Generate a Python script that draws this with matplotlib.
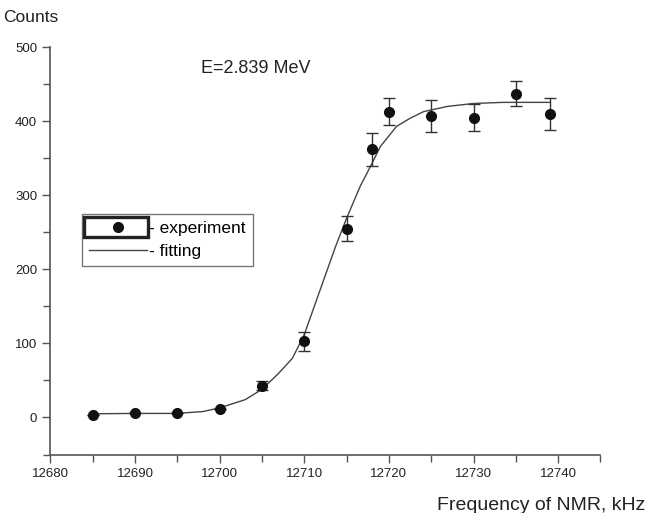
import numpy as np
import matplotlib
matplotlib.use("Agg")
import matplotlib.pyplot as plt
import matplotlib.patches as patches
from matplotlib.lines import Line2D
from matplotlib.legend_handler import HandlerBase
from matplotlib.ticker import MultipleLocator

plt.rcParams['font.family'] = ['Liberation Sans', 'DejaVu Sans']

# measured points
freq = [12685, 12690, 12695, 12700, 12705, 12710, 12715, 12718, 12720, 12725, 12730, 12735, 12739]
counts = [4, 5.5, 5.5, 11, 43, 103, 255, 362, 413, 407, 405, 437, 410]
errors = [0, 0, 0, 0, 6, 13, 17, 22, 18, 22, 18, 17, 22]

# fitted curve
fit_freq = [12685, 12690, 12695, 12698, 12700, 12703, 12705, 12707, 12708.6, 12710,
            12712.3, 12713.7, 12715, 12716.6, 12718, 12719, 12720.9, 12722.5, 12724.1,
            12726.9, 12730, 12733.5, 12739]
fit_counts = [5, 5.5, 5.5, 8, 13, 24, 38, 60, 80, 112,
              186, 231, 269, 312, 343, 366, 393, 404, 413,
              420, 424, 425.5, 425.5]

axis_color = "#555555"


class BoxedMarker(HandlerBase):
    def create_artists(self, legend, orig_handle, xdescent, ydescent,
                       width, height, fontsize, trans):
        box = patches.Rectangle((-xdescent - 4, -ydescent - 3), width + 5, height + 6,
                                fill=False, lw=2.4, edgecolor="#222222", transform=trans)
        dot = Line2D([width / 2 - xdescent], [height / 2 - ydescent], marker="o",
                     ms=7, color="#111111", ls="none", transform=trans)
        return [box, dot]


fig = plt.figure(figsize=(6.47, 5.13), dpi=100)
ax = fig.add_axes([0.078, 0.114, 0.85, 0.794])

ax.plot(fit_freq, fit_counts, color="#444444", lw=1.0)
ax.errorbar(freq, counts, yerr=errors, fmt="o", color="#111111", ms=7,
            ecolor="#333333", elinewidth=1.0, capsize=4, capthick=1.0)

ax.set_xlim(12680, 12745)
ax.set_ylim(-50, 500)
ax.xaxis.set_major_locator(MultipleLocator(10))
ax.xaxis.set_minor_locator(MultipleLocator(5))
ax.yaxis.set_major_locator(MultipleLocator(100))
ax.yaxis.set_minor_locator(MultipleLocator(50))

for s in ["top", "right"]:
    ax.spines[s].set_visible(False)
for s in ["left", "bottom"]:
    ax.spines[s].set_color(axis_color)
    ax.spines[s].set_linewidth(1.2)

ax.tick_params(which="both", direction="out", color=axis_color, width=1.0,
               labelsize=9.5, labelcolor="#222222")
ax.tick_params(which="major", length=6)
ax.tick_params(which="minor", length=5)

fig.text(0.005, 0.965, "Counts", fontsize=12.5, color="#222222", va="center")
fig.text(0.997, -0.002, "Frequency of NMR, kHz", fontsize=14, color="#222222",
         ha="right", va="bottom")
ax.text(12697.8, 465, "E=2.839 MeV", fontsize=13, color="#222222")

exp_handle = Line2D([], [], marker="o", ls="none")
fit_handle = Line2D([], [], color="#444444", lw=1.0)
leg = ax.legend([exp_handle, fit_handle], ["- experiment", "- fitting"],
                handler_map={exp_handle: BoxedMarker()},
                loc="upper left", bbox_to_anchor=(0.058, 0.59),
                fontsize=12.5, frameon=True, fancybox=False, handlelength=3.3,
                handletextpad=0.15, borderpad=0.4, labelspacing=0.45,
                borderaxespad=0)
leg.get_frame().set_edgecolor("#555555")
leg.get_frame().set_linewidth(1.0)

fig.savefig("out.png", dpi=100)
